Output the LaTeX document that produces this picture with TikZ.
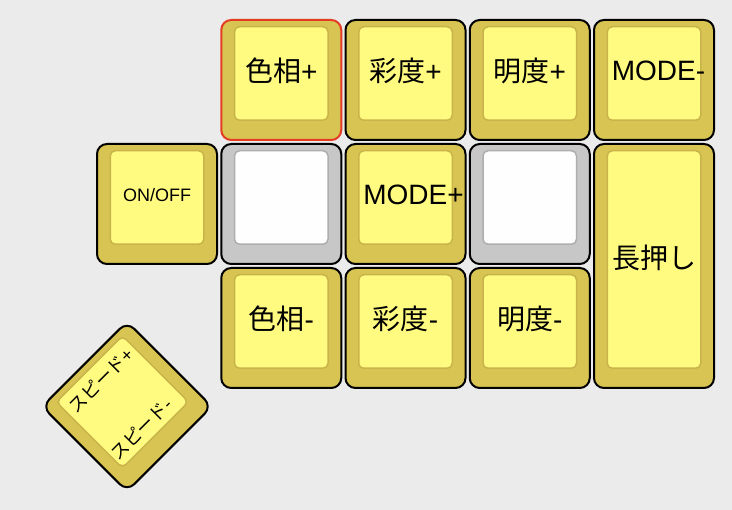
\documentclass[tikz,border=0pt]{standalone}
\usepackage{fontspec}
\setmainfont{Liberation Sans}
\newfontfamily\jp{Noto Sans CJK JP}
\definecolor{bg}{HTML}{EBEBEB}
\definecolor{capout}{HTML}{D8C453}
\definecolor{capin}{HTML}{FFFA80}
\definecolor{capedge}{HTML}{C8B44A}
\definecolor{grayout}{HTML}{C7C7C7}
\definecolor{grayin}{HTML}{FEFEFE}
\definecolor{grayedge}{HTML}{AEAEAE}
\definecolor{hl}{HTML}{E53B22}
\newcommand\capkey[7]{%
  \node[#6, minimum width=#4pt-2pt, minimum height=#5pt-2pt] (#1) at (#2+#4/2, #3+#5/2) {};
  \node[#7, minimum width=#4pt-28.5pt, minimum height=#5pt-28.5pt] (#1-cap) at (#2+#4/2, #3+#5/2-6.5) {};
}
\begin{document}
\begin{tikzpicture}[x=1pt,y=-1pt,
  keyshape/.style={shape=rectangle, inner sep=0pt, outer sep=0pt},
  ykey/.style={keyshape, draw=black, line width=2pt, fill=capout, rounded corners=10pt},
  hkey/.style={ykey, draw=hl},
  gkey/.style={keyshape, draw=black, line width=2pt, fill=grayout, rounded corners=10pt},
  ycap/.style={keyshape, draw=capedge, line width=1.5pt, fill=capin, rounded corners=5pt},
  gcap/.style={keyshape, draw=grayedge, line width=1.5pt, fill=grayin, rounded corners=5pt},
  lbl/.style={inner sep=0pt, outer sep=0pt, font=\fontsize{28}{32}\selectfont},
  slbl/.style={inner sep=0pt, outer sep=0pt, font=\fontsize{18}{22}\selectfont}]
\fill[bg] (0,0) rectangle (732,510);
\useasboundingbox (0,0) rectangle (732,510);
% row 0
\capkey{k01}{220.25}{19}{122}{122}{hkey}{ycap}
\capkey{k02}{344.5}{19}{122}{122}{ykey}{ycap}
\capkey{k03}{468.75}{19}{122}{122}{ykey}{ycap}
\capkey{k04}{593}{19}{122}{122}{ykey}{ycap}
% row 1
\capkey{k10}{96}{143}{122}{122}{ykey}{ycap}
\capkey{k11}{220.25}{143}{122}{122}{gkey}{gcap}
\capkey{k12}{344.5}{143}{122}{122}{ykey}{ycap}
\capkey{k13}{468.75}{143}{122}{122}{gkey}{gcap}
\capkey{k14}{593}{143}{122}{246}{ykey}{ycap}
% row 2
\capkey{k21}{220.25}{267}{122}{122}{ykey}{ycap}
\capkey{k22}{344.5}{267}{122}{122}{ykey}{ycap}
\capkey{k23}{468.75}{267}{122}{122}{ykey}{ycap}
% labels
\node[lbl] (t01) at ([yshift=2.5pt]k01-cap.center) {{\jp 色相}+};
\node[lbl] (t02) at ([yshift=2.5pt]k02-cap.center) {{\jp 彩度}+};
\node[lbl] (t03) at ([yshift=2.5pt]k03-cap.center) {{\jp 明度}+};
\node[lbl, anchor=west] (t04) at ([xshift=4.5pt,yshift=2.5pt]k04-cap.west) {MODE-};
\node[slbl] (t10) at ([yshift=2.5pt]k10-cap.center) {ON/OFF};
\node[lbl, anchor=west] (t12) at ([xshift=4.5pt,yshift=2.5pt]k12-cap.west) {MODE+};
\node[lbl] (t14) at ([yshift=2pt]k14-cap.center) {\jp 長押し};
\node[lbl] (t21) at ([yshift=2.5pt]k21-cap.center) {{\jp 色相}-};
\node[lbl] (t22) at ([yshift=2.5pt]k22-cap.center) {{\jp 彩度}-};
\node[lbl] (t23) at ([yshift=2.5pt]k23-cap.center) {{\jp 明度}-};
% rotated encoder key
\begin{scope}[shift={(127,406.5)}, rotate=45, transform shape]
  \capkey{enc}{-61}{-61}{122}{122}{ykey}{ycap}
  \node[slbl] (tenc1) at (0,-37) {{\jp スピード}+};
  \node[slbl] (tenc2) at (-6,26) {{\jp スピード}-};
\end{scope}
\end{tikzpicture}
\end{document}
